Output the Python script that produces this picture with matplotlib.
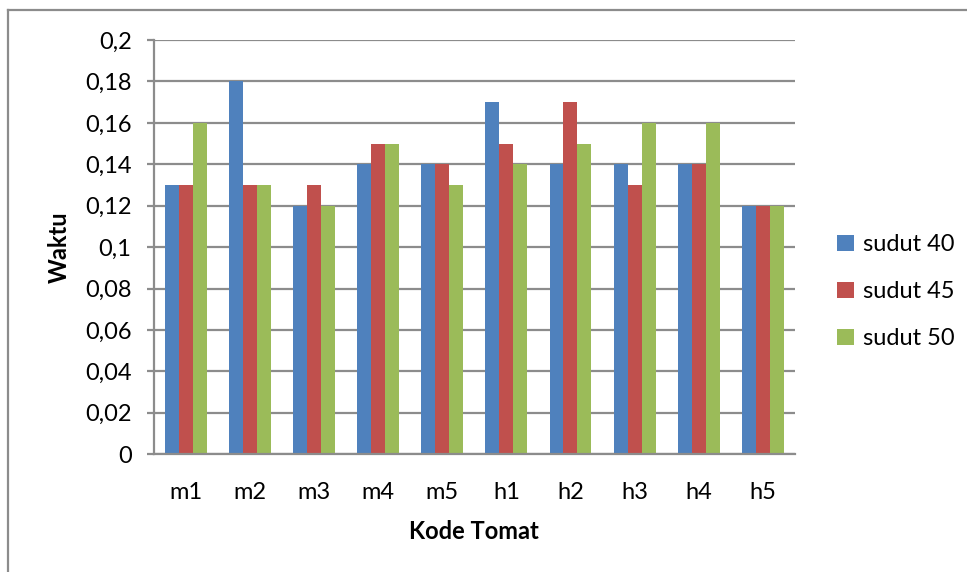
import numpy as np
import matplotlib
matplotlib.use("Agg")
from matplotlib import pyplot as plt
from matplotlib.lines import Line2D

plt.rcParams['font.family'] = ['Lato', 'DejaVu Sans']

# data
kode = ['m1', 'm2', 'm3', 'm4', 'm5', 'h1', 'h2', 'h3', 'h4', 'h5']
sudut_40 = [0.13, 0.18, 0.12, 0.14, 0.14, 0.17, 0.14, 0.14, 0.14, 0.12]
sudut_45 = [0.13, 0.13, 0.13, 0.15, 0.14, 0.15, 0.17, 0.13, 0.14, 0.12]
sudut_50 = [0.16, 0.13, 0.12, 0.15, 0.13, 0.14, 0.15, 0.16, 0.16, 0.12]
series_names = ['sudut 40', 'sudut 45', 'sudut 50']
y_ticks = [0, 0.02, 0.04, 0.06, 0.08, 0.1, 0.12, 0.14, 0.16, 0.18, 0.2]

colors = ['#4F81BD', '#C0504D', '#9BBB59']
grid_col = '#8C8C8C'
fs = 17

fig = plt.figure(figsize=(9.67, 5.72), dpi=100)
ax = fig.add_axes([0.159, 0.206, 0.663, 0.724])

x = np.arange(len(kode))
w = 0.218
for i, (vals, name) in enumerate(zip([sudut_40, sudut_45, sudut_50], series_names)):
    ax.bar(x + (i - 1) * w, vals, w, color=colors[i], label=name, zorder=3)

ax.set_xlim(-0.5, len(kode) - 0.5)
ax.set_ylim(0, 0.2)
ax.set_yticks(y_ticks)
ax.set_yticklabels([('%g' % t).replace('.', ',') for t in y_ticks])
ax.set_xticks(x)
ax.set_xticklabels(kode)

ax.yaxis.grid(True, color=grid_col, linewidth=1.6, zorder=0)
for s in ['top', 'right']:
    ax.spines[s].set_visible(False)
ax.spines['left'].set_color(grid_col)
ax.spines['left'].set_linewidth(1.6)
ax.spines['bottom'].set_color(grid_col)
ax.spines['bottom'].set_linewidth(1.6)
ax.spines['bottom'].set_zorder(4)

ax.tick_params(axis='y', length=5, width=1.6, color=grid_col, pad=11, labelsize=fs)
ax.tick_params(axis='x', length=0, pad=20, labelsize=fs)

ax.set_ylabel('Waktu', fontsize=fs, fontweight='bold', labelpad=10)
ax.set_xlabel('Kode Tomat', fontsize=fs, fontweight='bold', labelpad=12)

ax.legend(loc='center left', bbox_to_anchor=(0.844, 0.49), bbox_transform=fig.transFigure,
          frameon=False, fontsize=fs, handlelength=0.72, handleheight=0.72,
          handletextpad=0.35, labelspacing=1.1)

# outer chart frame (only left and top edges visible)
fig.add_artist(Line2D([0.0085, 0.0085], [0.0, 0.983], color=grid_col, linewidth=1.6))
fig.add_artist(Line2D([0.0085, 1.0], [0.983, 0.983], color=grid_col, linewidth=1.6))

fig.savefig('out.png', dpi=100)
